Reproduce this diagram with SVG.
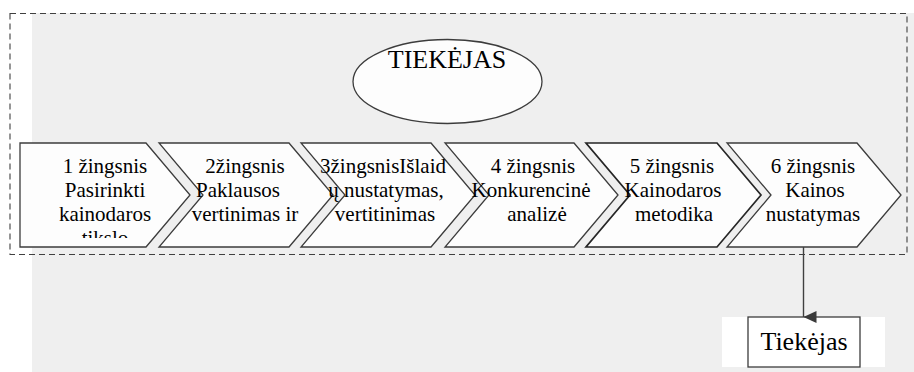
<svg xmlns="http://www.w3.org/2000/svg" width="914" height="372" viewBox="0 0 914 372">
<style>
.bg{fill:#efefef}
.shape{fill:#fdfdfd;stroke:#3c3c3c;stroke-width:1.3}
.t{font-family:"Liberation Serif","Times New Roman",serif;fill:#000;text-anchor:middle}
.s{font-size:21px}
.big{font-size:26px}
.conn{stroke:#404040;stroke-width:1.4;fill:none}
</style>
<defs>
<marker id="arr" markerWidth="12" markerHeight="13" refX="6" refY="13" orient="auto" markerUnits="userSpaceOnUse" viewBox="0 0 12 13">
<path d="M0,0 L12,0 L6,13 Z" fill="#3a3a3a"/>
</marker>
<clipPath id="clipText"><rect x="0" y="140" width="914" height="98"/></clipPath>
</defs>
<rect x="0" y="0" width="914" height="372" fill="#ffffff"/>
<rect class="bg" x="32" y="13" width="882" height="359"/>
<rect x="10" y="13.5" width="897" height="241" fill="none" stroke="#404040" stroke-width="1.1" stroke-dasharray="6,4"/>
<rect x="722" y="317" width="163" height="50" fill="#ffffff"/>

<g id="node-tiekejas-ellipse">
<ellipse class="shape" cx="447.5" cy="81.5" rx="94.5" ry="42"/>
<text class="t big" x="447" y="68">TIEKĖJAS</text>
</g>

<g id="step1">
<path class="shape" d="M20,143 L146,143 L190,195 L146,247 L20,247 Z"/>
<g clip-path="url(#clipText)">
<text class="t s" x="105" y="173">1 žingsnis</text>
<text class="t s" x="105" y="197">Pasirinkti</text>
<text class="t s" x="105" y="221">kainodaros</text>
<text class="t s" x="105" y="245">tikslo</text>
</g>
</g>

<g id="step2">
<path class="shape" d="M159,143 L289,143 L333,195 L289,247 L159,247 L203,195 Z"/>
<text class="t s" x="245" y="173">2žingsnis</text>
<text class="t s" x="238" y="197">Paklausos</text>
<text class="t s" x="245" y="221">vertinimas ir</text>
</g>

<g id="step3">
<path class="shape" d="M301,143 L431,143 L475,195 L431,247 L301,247 L345,195 Z"/>
<text class="t s" x="383" y="173">3žingsnisIšlaid</text>
<text class="t s" x="386" y="197">ų nustatymas,</text>
<text class="t s" x="385" y="221">vertitinimas</text>
</g>

<g id="step4">
<path class="shape" d="M445,143 L574,143 L618,195 L574,247 L445,247 L489,195 Z"/>
<text class="t s" x="533" y="173">4 žingsnis</text>
<text class="t s" x="531" y="197">Konkurencinė</text>
<text class="t s" x="537" y="221">analizė</text>
</g>

<g id="step5">
<path class="shape" d="M586,143 L717,143 L761,195 L717,247 L586,247 L630,195 Z" style="stroke:#262626;stroke-width:1.7"/>
<text class="t s" x="672" y="173">5 žingsnis</text>
<text class="t s" x="673" y="197">Kainodaros</text>
<text class="t s" x="674" y="221">metodika</text>
</g>

<g id="step6">
<path class="shape" d="M727,143 L857,143 L901,195 L857,247 L727,247 L771,195 Z"/>
<text class="t s" x="813" y="173">6 žingsnis</text>
<text class="t s" x="815" y="197">Kainos</text>
<text class="t s" x="813" y="221">nustatymas</text>
</g>

<g id="node-tiekejas-box">
<rect x="748" y="317" width="112" height="50" fill="#ffffff" stroke="#3c3c3c" stroke-width="1.3"/>
<text class="t big" x="804" y="350">Tiekėjas</text>
</g>

<g id="connectors">
<line class="conn" x1="803.5" y1="247" x2="803.5" y2="317" marker-end="url(#arr)"/>
</g>
</svg>
